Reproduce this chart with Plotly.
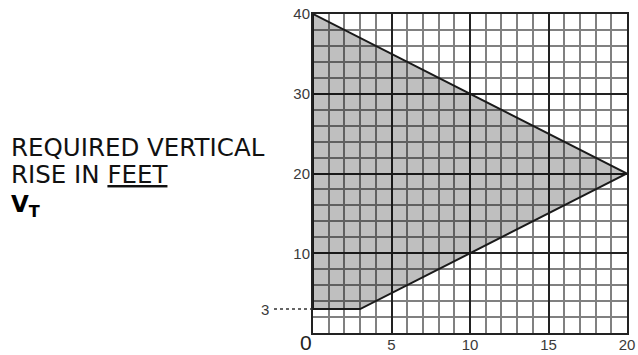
import plotly.graph_objects as go

# shaded region (distance in feet vs required vertical rise)
region_x = [0, 20, 3, 0, 0]
region_y = [40, 20, 3, 3, 40]
min_rise = 3

x_ticks = [5, 10, 15, 20]
y_ticks = [10, 20, 30, 40]

W, H = 638, 355
# plot area in pixels
left, right, top, bottom = 313, 627, 14, 333

fig = go.Figure()

fig.add_trace(go.Scatter(
    x=region_x, y=region_y,
    mode="lines",
    fill="toself",
    fillcolor="rgba(0,0,0,0.25)",
    line=dict(color="#1a1a1a", width=2),
    hoverinfo="skip",
    showlegend=False,
))
# empty trace so the overlay axes (heavy grid + labels) get drawn
fig.add_trace(go.Scatter(x=[], y=[], xaxis="x2", yaxis="y2",
                         hoverinfo="skip", showlegend=False))

tick_font = dict(family="Liberation Sans, Arial", size=15, color="#3a3a3a")

# fine grid on the main axes
fig.update_layout(
    xaxis=dict(
        range=[0, 20], domain=[left / W, right / W],
        tickmode="linear", tick0=0, dtick=1, showticklabels=False, ticks="",
        showgrid=True, gridcolor="#808080", gridwidth=1.5,
        showline=True, linecolor="#222", linewidth=2, mirror=True,
        zeroline=False, fixedrange=True, automargin=False,
    ),
    yaxis=dict(
        range=[0, 40], domain=[1 - bottom / H, 1 - top / H],
        tickmode="linear", tick0=0, dtick=2, showticklabels=False, ticks="",
        showgrid=True, gridcolor="#808080", gridwidth=1.5,
        showline=True, linecolor="#222", linewidth=2, mirror=True,
        zeroline=False, fixedrange=True, automargin=False,
    ),
    # heavy grid and tick labels
    xaxis2=dict(
        range=[0, 20], overlaying="x", anchor="y2", side="bottom",
        tickmode="array", tickvals=x_ticks, ticks="",
        tickfont=tick_font, ticklabelstandoff=1,
        showgrid=True, gridcolor="#222", gridwidth=1.7,
        showline=False, zeroline=False, fixedrange=True, automargin=False,
    ),
    yaxis2=dict(
        range=[0, 40], overlaying="y", anchor="x2", side="left",
        tickmode="array", tickvals=y_ticks, ticks="",
        tickfont=tick_font, ticklabelstandoff=2,
        showgrid=True, gridcolor="#222", gridwidth=1.7,
        showline=False, zeroline=False, fixedrange=True, automargin=False,
    ),
)

# dotted leader for the minimum rise
fig.add_shape(type="line", xref="paper", yref="y",
              x0=274 / W, x1=312 / W, y0=min_rise, y1=min_rise,
              line=dict(color="#333", width=1.5, dash="dot"))

label_font = dict(family="DejaVu Sans, Verdana", size=24.5, color="#111")
fig.add_annotation(text="REQUIRED VERTICAL", xref="paper", yref="paper",
                   x=9 / W, y=1 - 147 / H, xanchor="left", yanchor="middle",
                   showarrow=False, font=label_font)
fig.add_annotation(text="RISE IN <u>FEET</u>", xref="paper", yref="paper",
                   x=9 / W, y=1 - 174 / H, xanchor="left", yanchor="middle",
                   showarrow=False, font=label_font)
fig.add_annotation(text="<b>V<sub>T</sub></b>", xref="paper", yref="paper",
                   x=9 / W, y=1 - 206 / H, xanchor="left", yanchor="middle",
                   showarrow=False,
                   font=dict(family="DejaVu Sans, Verdana", size=23, color="#000"))

fig.add_annotation(text=str(min_rise), xref="paper", yref="y",
                   x=271 / W, y=min_rise, xanchor="right", yanchor="middle",
                   showarrow=False, font=tick_font)
fig.add_annotation(text="0", xref="paper", yref="paper",
                   x=306 / W, y=0, xanchor="center", yanchor="bottom",
                   borderpad=0, showarrow=False,
                   font=dict(family="Liberation Sans, Arial", size=21, color="#222"))

fig.update_layout(
    width=W, height=H,
    margin=dict(l=0, r=0, t=0, b=0, autoexpand=False),
    paper_bgcolor="white",
    plot_bgcolor="white",
    showlegend=False,
)

# drop the default page margin so the figure sits at the window origin
fig.write_html("out.html", config={"displayModeBar": False},
               post_script="document.body.style.margin='0';")
